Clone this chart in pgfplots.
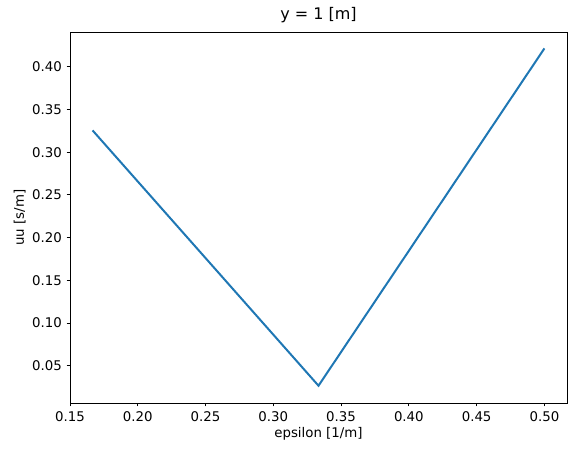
\documentclass[border=0pt]{standalone}
\usepackage{pgfplots}
\pgfplotsset{compat=1.18}
\usepackage{fontspec}
\setmainfont{DejaVu Sans}
\definecolor{mplblue}{HTML}{1F77B4}
\begin{document}
\begin{tikzpicture}
\begin{axis}[
  scale only axis,
  width=372.75pt, height=278.25pt,
  xmin=0.15, xmax=0.51667,
  ymin=0.00625, ymax=0.44075,
  xtick={0.15,0.20,0.25,0.30,0.35,0.40,0.45,0.50},
  ytick={0.05,0.10,0.15,0.20,0.25,0.30,0.35,0.40},
  xticklabel style={/pgf/number format/.cd,fixed,fixed zerofill,precision=2},
  yticklabel style={/pgf/number format/.cd,fixed,fixed zerofill,precision=2},
  /pgf/number format/assume math mode=true,
  tick label style={font=\fontsize{10}{12}\selectfont},
  label style={font=\fontsize{10}{12}\selectfont},
  xlabel style={yshift=2pt},
  ylabel style={yshift=-2pt},
  tick align=outside,
  tick pos=left,
  major tick length=2.6pt,
  xlabel={epsilon [1/m]},
  ylabel={uu [s/m]},
  title={y = 1 [m]},
  title style={font=\fontsize{12}{14}\selectfont, yshift=-3pt},
  axis line style={line width=0.6pt},
  every tick/.style={line width=0.6pt, black},
]
\addplot[mplblue, line width=1.5pt] coordinates {
  (0.166667,0.3255)
  (0.333333,0.0265)
  (0.5,0.4215)
};
\end{axis}
\path (current axis.south west) ++(-52.5pt,-39pt) coordinate (bbsw);
\path (current axis.north east) ++(6.75pt,24pt) coordinate (bbne);
\path (bbsw) rectangle (bbne);
\end{tikzpicture}
\end{document}
